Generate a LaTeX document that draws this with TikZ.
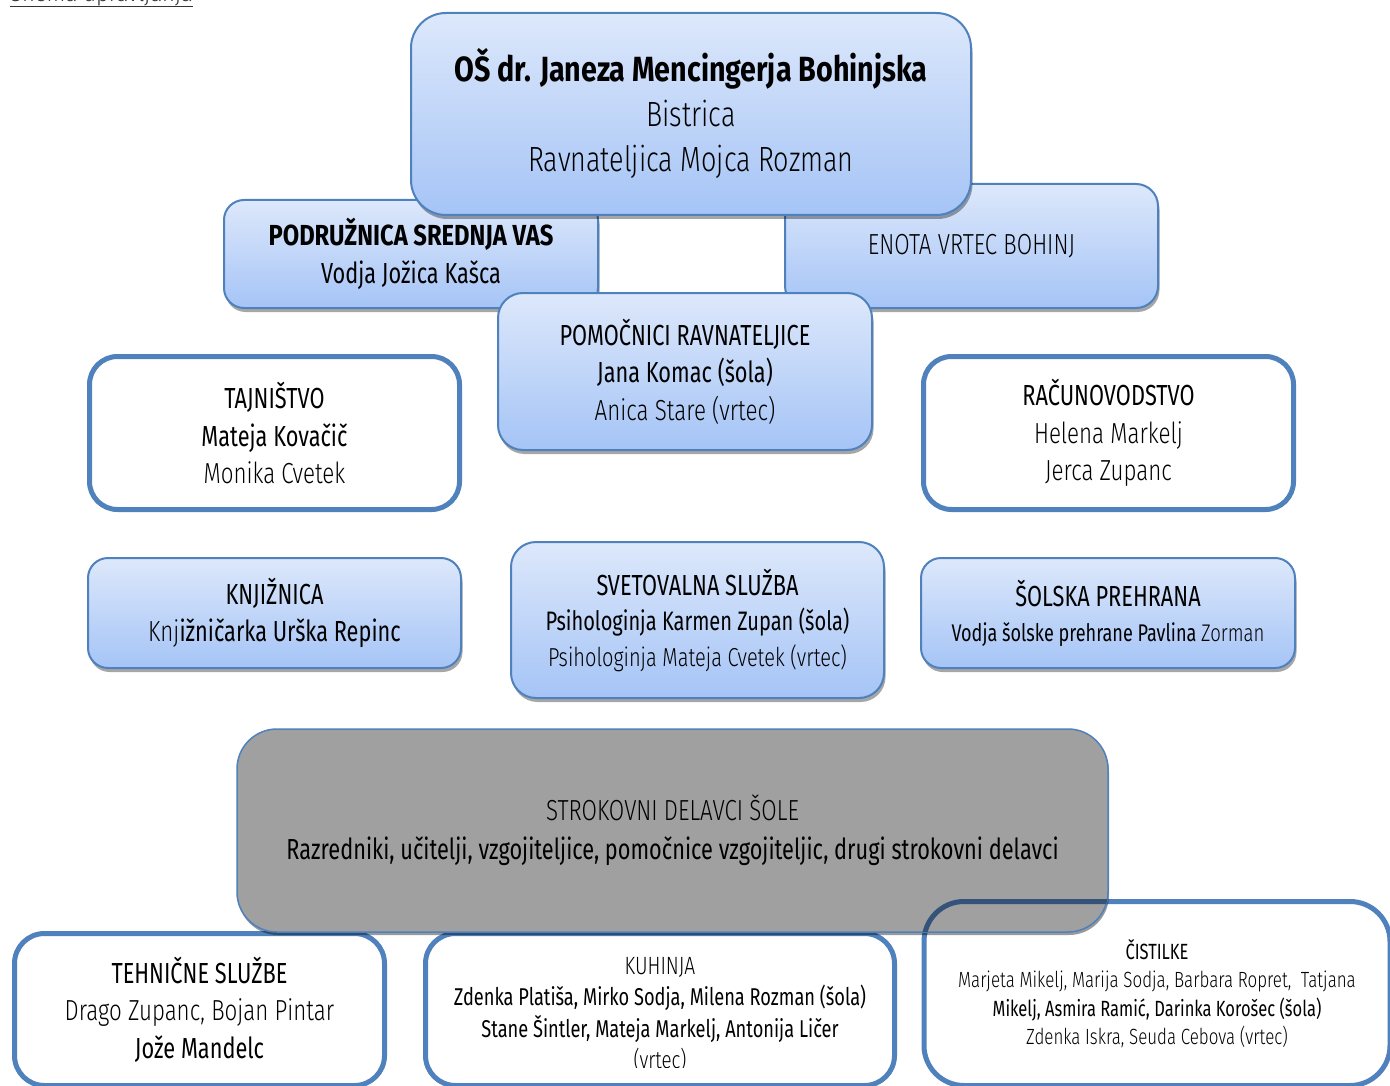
\documentclass[tikz,border=0pt]{standalone}
\usepackage{fontspec}
\setmainfont[FakeStretch=0.75]{Fira Sans}
\newfontfamily\bfx[FakeStretch=0.82]{Fira Sans}
\newfontfamily\lgt[FakeStretch=0.77]{Fira Sans Light}
\newfontfamily\ttlfont{Fira Sans Light}
\usetikzlibrary{shadows}
\definecolor{bord}{HTML}{4F81BD}
\definecolor{bordd}{HTML}{34527A}
\definecolor{gtop}{HTML}{DDE8FB}
\definecolor{gbot}{HTML}{A5C4F6}
\definecolor{grayf}{HTML}{A0A0A0}
\newcommand\fs[2]{\fontsize{#1}{#2}\selectfont}
\newcommand\bld{\bfx\bfseries}
\tikzset{
  gbox/.style={draw=bord, line width=2pt, top color=gtop, bottom color=gbot,
    drop shadow={shadow xshift=1.5pt, shadow yshift=-4pt, fill=black, opacity=0.35},
    align=center, inner sep=0pt, outer sep=0pt, text=black},
  wbox/.style={draw=bord, line width=5pt, fill=white, align=center, inner sep=0pt, outer sep=0pt, text=black},
  sbox/.style={draw=bord, line width=1.5pt, fill=grayf,
    drop shadow={shadow xshift=1pt, shadow yshift=-3pt, fill=black, opacity=0.4},
    align=center, inner sep=0pt, outer sep=0pt, text=black},
  mid/.style={font=\fs{29}{37.5}},
}
\begin{document}
\begin{tikzpicture}[x=1pt,y=-1pt]
\useasboundingbox (0,0) rectangle (1390,1086);
\fill[white] (0,0) rectangle (1390,1086);

% title (cut at top, as in the reference)
\node[anchor=base west, font=\ttlfont\fs{22}{26}, text=black!80, inner sep=0pt] (title) at (10,2) {Shema upravljanja};
\draw[line width=1.4pt, black!80] ([yshift=-4.5pt]title.base west) -- ([yshift=-4.5pt]title.base east);

% second row (behind the top box)
\node[gbox, mid, minimum width=374pt, minimum height=108pt, rounded corners=20pt] (podr) at (411,254)
  {{\bld PODRUŽNICA SREDNJA VAS}\\ Vodja Jožica Kašca};
\node[gbox, mid, minimum width=373pt, minimum height=124pt, rounded corners=22pt] (enota) at (971.5,246)
  {{\lgt ENOTA VRTEC BOHINJ}};

% top box
\node[gbox, font=\fs{35}{45}, minimum width=560pt, minimum height=202pt, rounded corners=35pt] (top) at (691,114)
  {{\bld OŠ dr. Janeza Mencingerja Bohinjska}\\ {\lgt Bistrica}\\ {\lgt Ravnateljica Mojca Rozman}};

% assistants
\node[gbox, mid, minimum width=374pt, minimum height=157pt, rounded corners=25pt] (pomoc) at (685,371.5)
  {POMOČNICI RAVNATELJICE\\ Jana Komac (šola)\\ {\lgt Anica Stare (vrtec)}};

% white boxes row
\node[wbox, mid, minimum width=370pt, minimum height=153pt, rounded corners=28pt] (taj) at (274.5,433)
  {TAJNIŠTVO\\ Mateja Kovačič\\ {\lgt Monika Cvetek}};
\node[wbox, mid, minimum width=370pt, minimum height=153pt, rounded corners=28pt] (racun) at (1108.5,433)
  {RAČUNOVODSTVO\\ {\lgt Helena Markelj}\\ {\lgt Jerca Zupanc}};

% gradient row
\node[gbox, mid, minimum width=373pt, minimum height=110pt, rounded corners=20pt] (knjiz) at (274.5,613)
  {KNJIŽNICA\\ {\lgt Knj}ižničarka Urška Repinc};
\node[gbox, font=\fs{29}{35.5}, minimum width=373pt, minimum height=156pt, rounded corners=25pt] (svet) at (697.5,620)
  {SVETOVALNA SLUŽBA\\ {\fs{26.7}{35.5}Psihologinja Karmen Zupan (šola)}\\ {\fs{26}{35.5}\lgt Psihologinja Mateja Cvetek (vrtec)}};
\node[gbox, font=\fs{29}{35}, minimum width=374pt, minimum height=110pt, rounded corners=20pt] (solska) at (1108,613)
  {ŠOLSKA PREHRANA\\ {\fs{24.1}{35}Vodja šolske prehrane Pavlina {\lgt Zorman}}};

% bottom row
\node[wbox, minimum width=466pt, minimum height=184pt, rounded corners=40pt] (cist) at (1157,993.5) {};
\node[align=center, font=\fs{22}{28.5}, inner sep=0pt] (cisttxt) at (cist.center)
  {{\fs{22}{28.5}ČISTILKE}\\ {\lgt Marjeta Mikelj, Marija Sodja, Barbara Ropret,\ \ Tatjana}\\ Mikelj, Asmira Ramić, Darinka Korošec (šola)\\ {\lgt Zdenka Iskra, Seuda Cebova (vrtec)}};

\node[wbox, mid, minimum width=370pt, minimum height=152pt, rounded corners=30pt] (tehn) at (199.5,1009.5)
  {TEHNIČNE SLUŽBE\\ {\lgt Drago Zupanc, Bojan Pintar}\\ Jože Mandelc};

\node[wbox, minimum width=469pt, minimum height=152pt, rounded corners=30pt] (kuh) at (660,1009.5) {};
\begin{scope}
  \clip (kuh.north west) rectangle (897,1067);
  \node[align=center, font=\fs{24.3}{31.5}, inner sep=0pt, anchor=north] (kuhtxt) at (660,957)
    {{\fs{25}{31.5}\lgt KUHINJA}\\ Zdenka Platiša, Mirko Sodja, Milena Rozman (šola)\\ Stane Šintler, Mateja Markelj, Antonija Ličer\\ {\lgt (vrtec)}};
\end{scope}

% professional staff (grey, over the bottom row)
\node[sbox, font=\fs{29}{39}, minimum width=871pt, minimum height=203pt, rounded corners=40pt] (strok) at (672.5,830.5)
  {{\lgt STROKOVNI DELAVCI ŠOLE}\\ Razredniki, učitelji, vzgojiteljice, pomočnice vzgojiteljic, drugi strokovni delavci};
\begin{scope}
  \clip[rounded corners=40pt] (strok.south west) rectangle (strok.north east);
  \draw[bordd, line width=5pt, rounded corners=40pt] (cist.south west) rectangle (cist.north east);
\end{scope}
\end{tikzpicture}
\end{document}
